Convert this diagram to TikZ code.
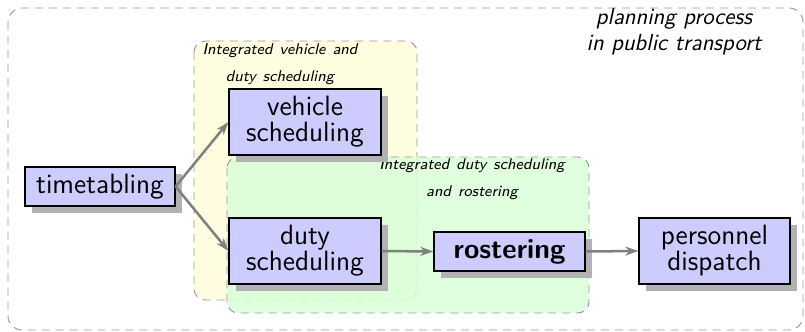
\documentclass[tikz,border=0pt]{standalone}
\usetikzlibrary{arrows.meta,shadows}
% one drawing unit
\newdimen\pxu \pxu=0.515pt
\newcommand{\widewords}{\spaceskip=0.45em plus 0.1em\relax}
\begin{document}
\begin{tikzpicture}[x=\pxu,y=-\pxu,
  stepbox/.style={draw=black,line width=0.62pt,fill=blue!20,inner sep=0pt,
    align=center,font=\sffamily\fontsize{14.4}{13.4}\selectfont,
    drop shadow={shadow xshift=3.6pt,shadow yshift=-3.6pt,fill=black!30,opacity=1}},
  groupbox/.style={draw=black!40,dash pattern=on 4.1pt off 3.1pt,line width=0.5pt,rounded corners=5.7pt},
  grouplabel/.style={align=center,inner sep=0pt,
    font=\sffamily\itshape\fontsize{8}{13.9}\selectfont},
  flow/.style={draw=black!50,line width=1.3pt,-{Stealth[length=6.7pt,width=4.6pt,inset=2pt]}}]
  \useasboundingbox (0,0) rectangle (805,332);

  % whole planning process
  \draw[groupbox,rounded corners=7.2pt] (8,8) rectangle (803,330);
  \node[align=center,inner sep=0pt,font=\sffamily\itshape\fontsize{12}{13.4}\selectfont]
    (proc) at (674,32) {planning process\\in public transport};

  % integrated vehicle and duty scheduling
  \fill[yellow!12,rounded corners=5.7pt] (194,41) rectangle (417,300);
  \draw[groupbox] (194,41) rectangle (417,300);
  % integrated duty scheduling and rostering
  \fill[green!15,opacity=0.85,rounded corners=5.7pt] (227,157) rectangle (589,313);
  \draw[groupbox] (227,157) rectangle (589,313);

  \node[grouplabel] (lvd) at (280,64) {\widewords Integrated vehicle and\\\widewords duty scheduling};
  \node[grouplabel] (ldr) at (472,179) {\widewords Integrated duty scheduling\\\widewords and rostering};

  % planning steps
  \node[stepbox,minimum width=150*\pxu,minimum height=39*\pxu] (tt) at (100,186.5) {timetabling};
  \node[stepbox,minimum width=152*\pxu,minimum height=66*\pxu] (vs) at (305,122) {vehicle\\scheduling};
  \node[stepbox,minimum width=152*\pxu,minimum height=66*\pxu] (ds) at (305,251) {duty\\scheduling};
  \node[stepbox,minimum width=151*\pxu,minimum height=39*\pxu] (ro) at (509.5,251.5) {\bfseries rostering};
  \node[stepbox,minimum width=151*\pxu,minimum height=66*\pxu] (pd) at (714.5,251) {personnel\\dispatch};

  % flow between steps
  \draw[flow] (tt.east) -- (vs.west);
  \draw[flow] (tt.east) -- (ds.west);
  \draw[flow] (ds.east) -- (ro.west);
  \draw[flow] (ro.east) -- (pd.west);
\end{tikzpicture}
\end{document}
